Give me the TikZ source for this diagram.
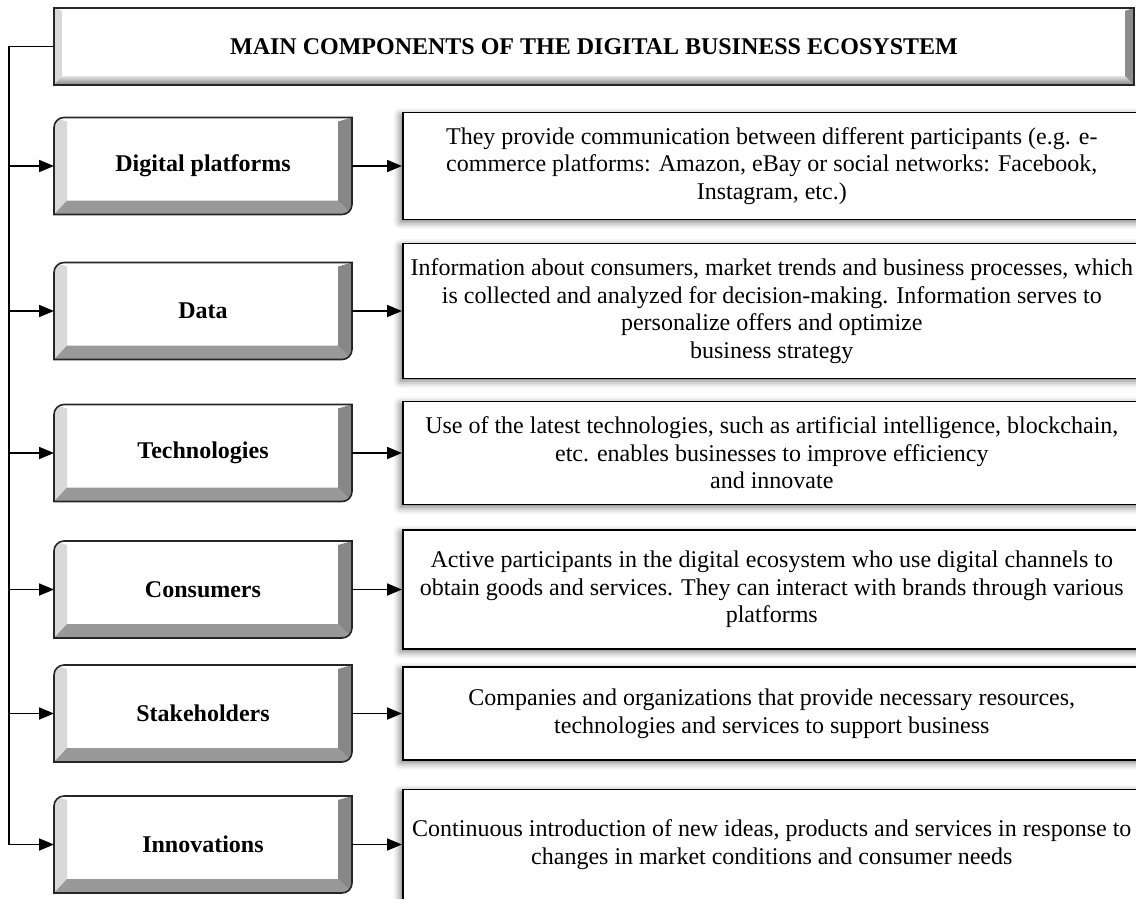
\documentclass[tikz,border=0pt]{standalone}
\usepackage{fontspec}
\setmainfont{Liberation Serif}
\usetikzlibrary{arrows.meta,positioning,shadows.blur}

% bevelled frame of a button node
\newcommand{\bevelbtn}[1]{%
  \begin{scope}
    \clip (#1.south west) -- ([yshift=-10pt]#1.north west) arc[start angle=180,end angle=90,radius=10pt]
      -- (#1.north east) -- ([yshift=10pt]#1.south east) arc[start angle=0,end angle=-90,radius=10pt] -- cycle;
    \fill[black!15] (#1.south west) -- (#1.north west) -- ([shift={(13pt,-4pt)}]#1.north west)
      -- ([shift={(13pt,14pt)}]#1.south west) -- cycle;
    \fill[black!40] (#1.south west) -- ([shift={(13pt,14pt)}]#1.south west)
      -- ([shift={(-14pt,14pt)}]#1.south east) -- (#1.south east) -- cycle;
    \fill[black!47] (#1.south east) -- ([shift={(-14pt,14pt)}]#1.south east)
      -- ([shift={(-14pt,-4pt)}]#1.north east) -- (#1.north east) -- cycle;
  \end{scope}
  \draw[line width=1.6pt, black!85] (#1.south west) -- ([yshift=-10pt]#1.north west) arc[start angle=180,end angle=90,radius=10pt]
    -- (#1.north east) -- ([yshift=10pt]#1.south east) arc[start angle=0,end angle=-90,radius=10pt] -- cycle;
}

\begin{document}
\begin{tikzpicture}[
x=1pt, y=1pt,
title/.style={minimum width=1080pt, minimum height=77pt, font=\fontsize{24pt}{27.6pt}\selectfont\bfseries},
btn/.style={minimum width=298pt, minimum height=97pt, outer sep=0pt, font=\fontsize{24pt}{27.6pt}\selectfont\bfseries},
info/.style={draw, line width=1.6pt, fill=white, align=center, minimum width=738pt,
  font=\fontsize{24pt}{27.6pt}\selectfont,
  blur shadow={shadow xshift=-2.5pt, shadow yshift=-2.5pt, shadow blur radius=7pt, shadow opacity=55}},
arrow/.style={-{Triangle[length=15pt, width=12pt]}, line width=1.8pt}
]
\useasboundingbox (0,0) rectangle (1136,-898);

% heading
\node[title] (title) at (594,-46.5) {MAIN COMPONENTS OF THE DIGITAL BUSINESS ECOSYSTEM};
\fill[black!15] (title.south west) -- (title.north west) -- ([shift={(8pt,-3pt)}]title.north west)
  -- ([shift={(8pt,9pt)}]title.south west) -- cycle;
\shade[top color=black!12, bottom color=black!50] (title.south west) -- ([shift={(8pt,9pt)}]title.south west)
  -- ([shift={(-9pt,9pt)}]title.south east) -- (title.south east) -- cycle;
\fill[black!45] (title.south east) -- ([shift={(-9pt,9pt)}]title.south east)
  -- ([shift={(-9pt,-3pt)}]title.north east) -- (title.north east) -- cycle;
\draw[line width=1.6pt, black!85] (title.south west) rectangle (title.north east);

% components
\node[btn] (dp) at (203,-166) {Digital platforms};
\node[btn, below=48pt of dp] (data) {Data};
\node[btn, below=45pt of data] (tech) {Technologies};
\node[btn, below=39.5pt of tech] (cons) {Consumers};
\node[btn, below=27pt of cons] (stake) {Stakeholders};
\node[btn, below=34pt of stake] (innov) {Innovations};
\foreach \n in {dp,data,tech,cons,stake,innov} {\bevelbtn{\n}}

% descriptions
\node[info, minimum height=107pt, right=50pt of dp] (dp-txt) {They provide communication between different participants (e.g. e-\\commerce platforms: Amazon, eBay or social networks: Facebook,\\Instagram, etc.)};
\node[info, minimum height=135pt, right=50pt of data] (data-txt) {Information about consumers, market trends and business processes, which\\is collected and analyzed for decision-making. Information serves to\\personalize offers and optimize\\business strategy};
\node[info, minimum height=103pt, right=50pt of tech] (tech-txt) {Use of the latest technologies, such as artificial intelligence, blockchain,\\etc. enables businesses to improve efficiency\\and innovate};
\node[info, minimum height=119pt, right=50pt of cons] (cons-txt) {Active participants in the digital ecosystem who use digital channels to\\obtain goods and services. They can interact with brands through various\\platforms};
\node[info, minimum height=93pt, right=50pt of stake] (stake-txt) {Companies and organizations that provide necessary resources,\\technologies and services to support business};
\node[info, minimum height=110pt, right=50pt of innov] (innov-txt) {Continuous introduction of new ideas, products and services in response to\\changes in market conditions and consumer needs};

% arrows
\draw[arrow] (title.west) -- ++(-45pt,0) coordinate (top) |- (innov.west);
\foreach \n in {dp,data,tech,cons,stake} \draw[arrow] (top |- \n.west) -- (\n.west);
\foreach \n in {dp,data,tech,cons,stake,innov} \draw[arrow] (\n.east) -- (\n-txt.west);
\end{tikzpicture}
\end{document}
